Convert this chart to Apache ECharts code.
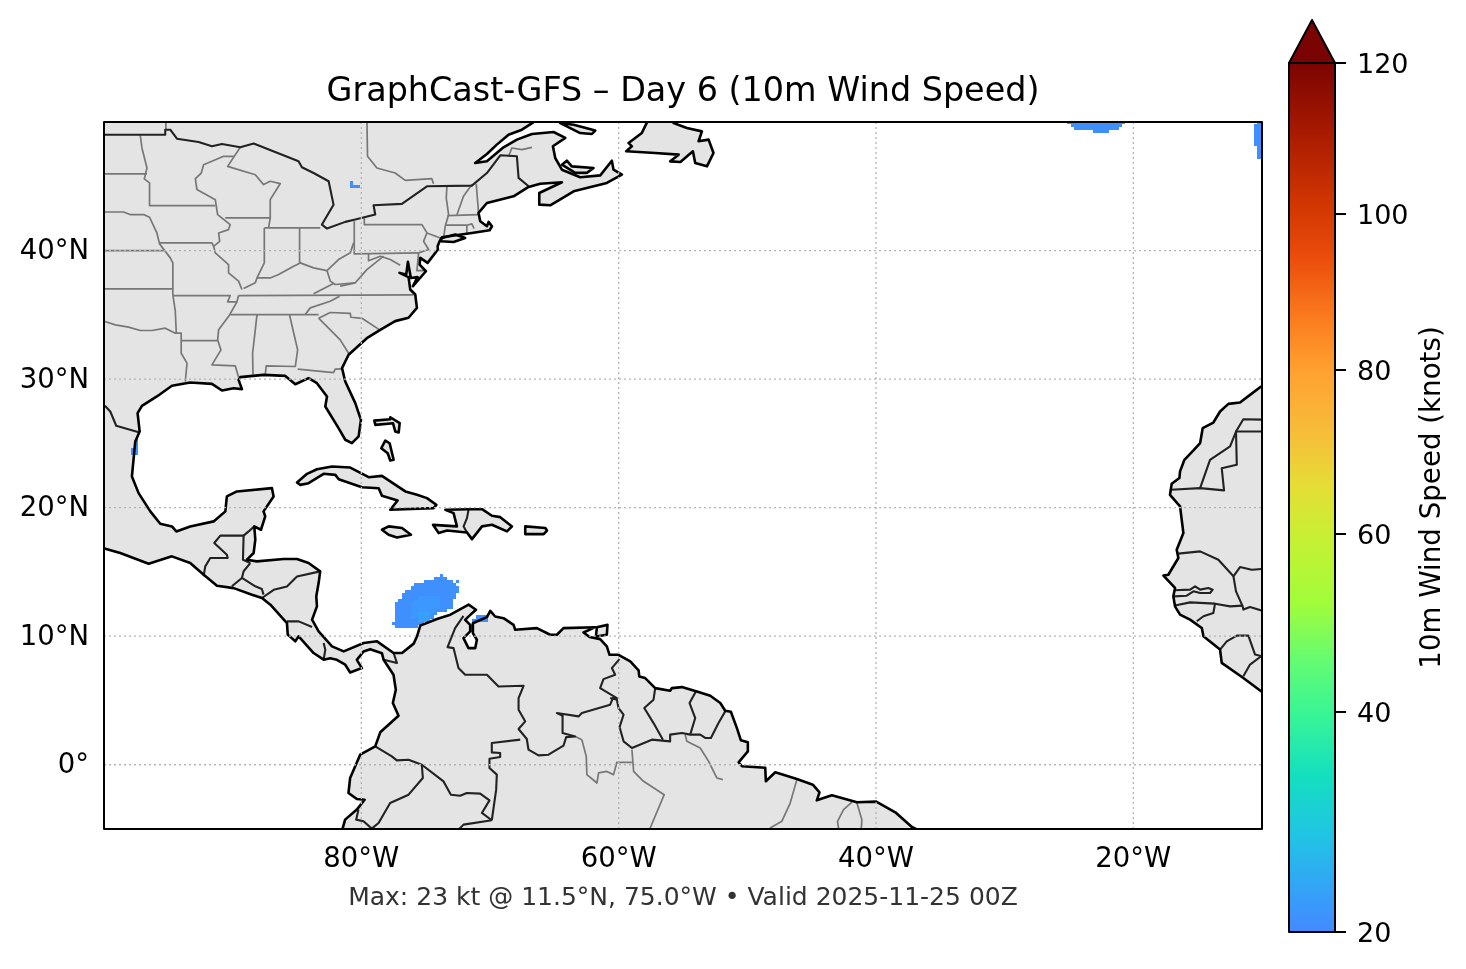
<!DOCTYPE html>
<html>
<head>
<meta charset="utf-8">
<title>GraphCast-GFS Day 6</title>
<script src="https://cdn.jsdelivr.net/npm/echarts@6/dist/echarts.min.js"></script>
<style>
  html, body { margin: 0; padding: 0; background: #fff; }
  #chart { width: 1466px; height: 969px; }
</style>
</head>
<body>
<div id="chart"></div>
<script>
// tick labels
const lonTicks = [-80, -60, -40, -20];
const latTicks = [0, 10, 20, 30, 40];
const cbarKnots = [20, 40, 60, 80, 100, 120];
const cbarPos = [0, 0.2532, 0.458, 0.6467, 0.8262, 1];   // tick spacing on the bar is not linear

// colour bar, position on the bar -> colour
const cbarStops = [
  [0, '#4488ff'], [0.03, '#3a98fb'], [0.108, '#22c2e6'], [0.18, '#14dfc0'],
  [0.253, '#3af595'], [0.31, '#62fb74'], [0.38, '#a2fc3a'], [0.458, '#c9ef33'],
  [0.515, '#e6dc36'], [0.57, '#f6bf3a'], [0.647, '#ffa030'], [0.705, '#fb7c1e'],
  [0.775, '#ea4d0c'], [0.826, '#d63a03'], [0.92, '#a81a01'], [1, '#7a0403']
];
const windColors = { 21: '#3f8ffe', 22: '#3c97fe', 23: '#38a0fc' };

// wind above 20 kt: lat, lon from, lon to, knots (0.25 degree cells)
const windRuns = [
  [14.75, -73.75, -73.75, 21], [14.5, -74.25, -73.5, 21], [14.25, -75, -73, 21], [14.25, -72.5, -72.5, 21],
  [14, -75.75, -72.75, 21], [13.75, -76, -72.5, 21], [13.5, -76.5, -72.5, 21], [13.25, -76.75, -72.75, 21],
  [13, -76.75, -72.75, 21], [12.75, -77, -73, 21], [12.5, -77.25, -73, 21], [12.25, -77.25, -73, 21],
  [12, -77.25, -73.5, 21], [11.75, -77.25, -74.25, 21], [11.5, -77.25, -74.5, 21], [11.25, -77.25, -74.75, 21],
  [11, -77.5, -75.25, 21], [10.75, -77.25, -75.75, 21],
  [13, -75.5, -74, 22], [12.75, -75.75, -74, 22], [12.5, -76, -74, 22], [12.25, -76, -74, 22],
  [12, -76, -74.5, 22], [11.75, -76, -74.5, 22], [11.5, -76, -74.75, 22],
  [11.75, -75.5, -74.75, 23], [11.5, -75.5, -74.75, 23], [11.25, -75.5, -74.75, 23],
  [11.5, -71, -70.25, 21], [11.25, -71.25, -70.25, 21],
  [50, -25, -20.75, 21], [49.75, -24.75, -21, 21], [49.5, -24.5, -21.25, 21], [49.25, -23, -22, 21],
  [50, -10.25, -10, 21], [49.75, -10.5, -10, 21], [49.5, -10.5, -10, 21], [49.25, -10.5, -10, 21],
  [49, -10.5, -10, 21], [48.75, -10.5, -10, 21], [48.5, -10.5, -10, 21], [48.25, -10.5, -10, 21],
  [48, -10.25, -10, 21], [47.75, -10.25, -10, 21], [47.5, -10.25, -10, 21], [47.25, -10.25, -10, 21],
  [45.25, -80.75, -80.75, 21], [45, -80.75, -80.25, 21],
  [25.25, -97.5, -97.5, 21], [25, -97.5, -97.5, 21], [24.75, -97.5, -97.5, 21],
  [24.5, -97.75, -97.5, 21], [24.25, -97.75, -97.5, 21]
];

// land outlines, lon/lat
const americas = [[-101,50.5],[-66.67,50.5],[-66.67,49.95],[-67.52,49.4],[-68.56,49.01],[-69.47,48.24],[-70.24,47.51],[-71.15,46.81],
  [-70.24,46.94],[-68.95,48.03],[-67.91,48.63],[-66.74,49.07],[-65.06,49.22],[-64.15,48.76],[-65.11,48.11],[-64.93,47.2],[-64.41,46.29],
  [-62.99,45.7],[-61.43,45.85],[-60.53,46.99],[-60.4,46.29],[-59.75,45.9],[-60.92,45.26],[-63.5,44.61],[-65.32,43.52],[-66.17,43.57],
  [-66.17,44.48],[-64.41,45.31],[-66.1,45.2],[-67,44.95],[-68.17,44.22],[-70.24,43.7],[-70.89,42.93],[-70.76,42.28],[-70.24,41.89],
  [-70.11,42.23],[-69.85,41.89],[-70.03,41.58],[-71.41,41.37],[-73.74,41.03],[-73.92,40.72],[-74.07,40.33],[-74.05,40.08],[-74.85,39.04],
  [-75.42,39.43],[-75.47,38.91],[-74.98,38.39],[-75.99,37.23],[-75.63,37.93],[-76.15,37.87],[-76.38,39.12],[-76.51,38.13],[-77.03,38.26],
  [-76.33,37.93],[-76.2,36.97],[-75.81,36.58],[-75.68,35.54],[-76.33,34.77],[-77.37,34.51],[-78.53,33.83],[-79.57,33.18],[-80.99,31.89],
  [-81.5,30.85],[-81.25,29.81],[-80.47,28.13],[-80.03,26.83],[-80.21,25.54],[-80.73,25.02],[-81.25,25.28],[-81.77,26.19],[-82.8,27.87],
  [-82.67,28.65],[-83.45,29.68],[-84.1,30.07],[-85.13,29.6],[-85.91,30.25],[-87.6,30.33],[-89.41,30.15],[-89.54,29.94],[-89.28,29.22],
  [-89.93,29.29],[-90.83,29.11],[-91.61,29.63],[-93.3,29.73],[-94.72,29.48],[-95.89,28.65],[-97.05,27.92],[-97.39,27.35],[-97.23,25.93],
  [-97.57,25.15],[-97.83,22.43],[-97.31,21.13],[-96.4,19.71],[-95.63,18.75],[-94.72,18.54],[-94.38,18.15],[-93.3,18.54],[-91.48,18.93],
  [-90.57,19.71],[-90.45,20.87],[-89.67,21.26],[-86.95,21.52],[-86.82,20.87],[-87.6,19.71],[-87.47,19.32],[-87.8,18.28],[-88.32,18.54],
  [-88.24,17.51],[-88.37,16.47],[-88.89,15.95],[-88.12,15.82],[-86.04,16],[-85,16],[-84.1,15.69],[-83.2,15.04],[-83.32,14.13],[-83.5,13.1],
  [-83.45,12.32],[-83.83,11.28],[-83.32,10.38],[-82.28,9.21],[-81.37,8.82],[-79.82,9.47],[-78.78,9.6],[-77.49,8.69],[-76.84,8.69],
  [-75.93,9.42],[-75.67,9.99],[-75.42,10.82],[-74.12,11.33],[-73.08,11.67],[-71.66,12.45],[-71.09,12.06],[-71.66,11.54],[-71.93,11.27],
  [-71.54,10.88],[-71.54,10.37],[-72.06,9.85],[-71.67,9.07],[-71.15,9.07],[-71.02,9.72],[-71.33,10.24],[-71.33,11.01],[-70.24,11.48],
  [-69.98,11.97],[-69.6,11.53],[-68.95,11.4],[-68.17,10.88],[-68.04,10.5],[-66.36,10.63],[-65.32,10.11],[-64.8,10.11],[-64.29,10.63],
  [-61.82,10.7],[-62.73,10.29],[-62.26,9.93],[-61.44,9.77],[-60.92,9.2],[-60.71,8.55],[-60.01,8.55],[-59.1,8.04],[-58.45,7.34],[-58.4,6.87],
  [-57.94,6.74],[-57.16,5.96],[-56,5.76],[-55.86,5.96],[-55.09,6.04],[-53.92,5.7],[-52.88,5.37],[-52.1,4.8],[-51.72,4.2],[-51.28,4.12],
  [-50.81,2.85],[-50.5,1.9],[-49.96,1.74],[-49.96,1.04],[-50.68,0.19],[-50.42,-0.12],[-48.61,-0.23],[-48.56,-1.29],[-47.83,-0.59],
  [-46.15,-1.11],[-44.91,-1.55],[-44.39,-2.15],[-44.6,-2.77],[-43.43,-2.38],[-41.48,-2.92],[-39.98,-2.87],[-38.5,-3.7],[-37.21,-4.84],
  [-36.69,-5.1],[-36,-6],[-82,-6],[-81.44,-4.92],[-81.26,-4.27],[-80.35,-3.49],[-79.75,-2.72],[-80.35,-2.67],[-81,-2.2],[-80.87,-1.03],
  [-80.09,0.78],[-78.92,1.43],[-78.53,2.52],[-77.11,3.81],[-77.55,4.8],[-77.32,5.83],[-77.5,7],[-78.27,8.16],[-78.4,8.68],[-79.31,8.99],
  [-79.83,8.81],[-80.35,8.16],[-79.96,7.52],[-80.87,7.18],[-81.25,7.78],[-81.9,8.16],[-82.42,8.29],[-82.93,8.17],[-83.71,8.69],[-84.87,9.99],
  [-85.13,9.6],[-85.72,10.12],[-85.78,11.02],[-87.07,12.45],[-87.72,12.97],[-88.5,13.23],[-89.92,13.74],[-91.22,13.92],[-92.25,14.78],
  [-93.3,15.69],[-94.72,16.21],[-96.53,15.64],[-98.74,16.47],[-99.9,16.81],[-101,16.9]];
const anticosti = [[-64.54,49.92],[-63.5,49.79],[-61.82,49.33],[-62.08,49.07],[-62.99,49.14],[-64.03,49.66]];
const princeEdward = [[-64.41,46.68],[-64.03,46.99],[-63.64,46.55],[-61.95,46.42],[-62.47,46.04],[-63.38,46.04]];
const longIsland = [[-73.74,40.98],[-72.7,41.24],[-71.93,40.98],[-72.83,40.67],[-73.84,40.72]];
const newfoundland = [[-57.6,50.5],[-57.81,49.95],[-58.2,49.14],[-59.23,48.37],[-58.97,48.11],[-59.41,47.72],[-57.16,47.59],[-55.34,47.46],
  [-55.99,46.94],[-55.2,46.89],[-54.23,47.72],[-54.05,46.81],[-53.14,46.55],[-52.63,47.59],[-53.01,48.63],[-53.79,48.5],[-53.53,49.27],
  [-54.7,49.53],[-55.73,49.92],[-55.9,50.5]];
const grandBahama = [[-78.99,26.77],[-77.75,26.88],[-77.75,27.03],[-77.02,26.57],[-77.1,25.84],[-77.36,25.92],[-77.54,26.57],[-78.91,26.44]];
const andros = [[-78.14,25.22],[-77.8,25.01],[-77.49,23.72],[-77.75,23.67],[-77.95,24.23],[-78.45,24.62]];
const cuba = [[-85,21.96],[-84.22,22.63],[-83.45,22.99],[-82.28,23.2],[-80.86,23.12],[-79.43,22.37],[-78.4,22.47],[-76.58,21.26],[-75.67,21],
  [-74.9,20.74],[-74.17,20.22],[-74.38,19.96],[-77.75,19.83],[-77.18,20.56],[-78.4,20.92],[-78.65,21.51],[-79.95,21.59],[-81.76,22.21],
  [-82.02,22.55],[-82.93,22.63],[-84.1,21.9],[-84.74,21.77]];
const jamaica = [[-78.4,18.28],[-77.88,18.54],[-76.84,18.41],[-76.14,17.89],[-77.23,17.68],[-77.88,17.89]];
const hispaniola = [[-73.47,19.83],[-71.66,19.88],[-70.62,19.88],[-69.85,19.37],[-69.2,19.26],[-68.29,18.54],[-68.68,18.15],[-69.85,18.67],
  [-70.62,18.54],[-71.4,17.55],[-71.79,18.07],[-73.34,18.22],[-73.99,18.02],[-74.43,18.66],[-72.57,18.54],[-72.83,19.57]];
const puertoRico = [[-67.26,18.54],[-65.7,18.41],[-65.57,18.22],[-65.83,17.94],[-67.26,17.94]];
const trinidad = [[-61.69,10.7],[-60.87,10.88],[-60.92,10.11],[-61.77,9.98]];
const africa = [[-9,30],[-10.07,29.42],[-10.93,28.77],[-11.71,28.18],[-12.61,28.07],[-13.26,27.48],[-13.78,26.62],[-14.61,26.18],[-14.81,25.02],
  [-15.33,24.45],[-16.03,23.72],[-16.37,22.82],[-16.42,22.3],[-17.02,21.86],[-17.15,21],[-16.37,20.1],[-16.11,18.02],[-16.63,16.73],
  [-16.5,16.08],[-17.28,14.78],[-17.66,14.71],[-16.76,13.75],[-16.89,13.1],[-16.76,12.32],[-16.37,11.68],[-15.59,11.29],[-14.68,10.64],
  [-14.55,9.99],[-13.26,8.96],[-13.13,7.92],[-11.45,6.75],[-10.07,5.72],[-9,5]];

// country borders
const countryLines = [
  [[-101,49.01],[-95.24,49.01],[-95.24,49.4],[-94.85,49.4],[-94.33,48.7],[-92.65,48.44],[-91.61,48.11],[-90.83,48.29],[-89.41,48.03],[-88.37,48.32],
   [-84.88,46.94],[-84.62,46.48],[-83.71,46.03],[-82.54,45.39],[-82.16,43.57],[-83.06,42.02],[-82.67,41.71],[-81.25,42.23],[-80.47,42.41],
   [-78.92,42.8],[-79.05,43.52],[-76.85,43.63],[-74.9,45],[-71.41,45.05],[-70.24,46.03],[-69.2,47.41],[-67.91,47.33],[-67.78,45.65],[-67,45]],
  [[-99.93,27.92],[-99.51,27.48],[-99.05,26.37],[-97.23,25.85]],
  [[-92.26,14.66],[-92.13,15.43],[-91.74,16.08],[-90.39,16.08],[-90.45,16.34],[-91.43,17.25],[-90.96,17.82],[-89.15,17.82],[-89.2,15.95],[-88.63,15.69]],
  [[-89.15,17.82],[-88.76,18.15],[-88.32,18.54]],
  [[-88.63,15.69],[-89.15,15.05],[-89.28,14.53],[-90.06,13.88]],
  [[-89.28,14.53],[-88.24,13.88],[-87.73,13.67],[-87.6,13.23]],
  [[-87.72,12.97],[-86.81,13.61],[-85.78,13.87],[-85,14.65],[-83.2,15.04]],
  [[-85.78,11.15],[-84.87,11.15],[-83.83,10.71]],
  [[-82.93,9.47],[-82.8,8.95],[-82.93,8.17]],
  [[-78.26,8.17],[-77.23,7.91],[-77.49,8.69]],
  [[-71.66,19.88],[-71.79,19.18],[-72.05,18.54],[-71.79,18.07]],
  [[-72.06,11.58],[-72.71,10.62],[-73.3,9.15],[-72.83,9.07],[-72.45,7.52],[-71.93,7],[-70.24,7],[-69.34,6.09],[-67.39,6.14],[-67.78,5.18],
   [-67.78,4.28],[-67.26,3.37],[-67.78,2.78],[-67.14,2],[-67.01,1.17],[-66.23,0.73],[-65.45,0.78],[-64.29,1.48],[-64.08,2.15],[-63.38,2.2],
   [-64.36,2.46],[-64.36,3.81],[-64.8,4.02],[-63.12,3.76],[-62.86,4.02],[-60.66,4.67],[-60.45,5.18],[-60.14,5.18],[-61.44,5.96],[-61.18,6.66],
   [-60.27,7],[-60.53,7.52],[-59.94,8.21]],
  [[-67.65,1.95],[-69.86,1.69],[-69.86,0.96],[-69.21,0.91],[-69.21,0.6],[-70.04,0.47],[-70.04,-0.26],[-69.47,-0.77],[-69.52,-1.94],[-69.86,-4.32]],
  [[-78.92,1.43],[-77.63,0.65],[-77.24,0.34],[-76.33,0.39],[-75.3,0],[-73.61,-1.3],[-73.04,-2.33],[-72.32,-2.41],[-71.8,-2.2],[-70.76,-2.25],
   [-70.04,-2.77],[-70.63,-3.75],[-69.86,-4.32]],
  [[-75.3,0],[-75.22,-1.03],[-76.33,-2.33],[-77.76,-2.98],[-78.66,-4.53],[-79.19,-4.97],[-79.83,-4.4],[-80.4,-4.27],[-80.22,-3.49]],
  [[-69.86,-4.32],[-72.06,-4.66],[-72.45,-5.05]],
  [[-60.66,5.19],[-60.14,5.06],[-60.01,4.41],[-59.62,3.89],[-59.93,2.93],[-59.62,1.82],[-58.97,1.3],[-57.42,1.95],[-56,1.82],[-56,2.34],
   [-55.09,2.47],[-54.44,2.34],[-53.66,2.34],[-53.27,2.08],[-52.83,2.08],[-52.24,3.24],[-51.72,4.15]],
  [[-57.16,5.96],[-57.29,5.06],[-58.01,4.41],[-57.29,3.24],[-56.56,1.95]],
  [[-54,5.7],[-54.49,4.8],[-54.05,3.63],[-54.44,2.34]],
  [[-17.09,21.39],[-14.81,21.52],[-12.95,21.34],[-13.13,23.07],[-11.96,23.33],[-12.02,25.92],[-9,25.92]],
  [[-14.81,21.52],[-14.04,23.72],[-12.48,24.76],[-12.02,25.92],[-11.45,26.88],[-9,26.83]],
  [[-16.5,16.42],[-14.81,16.6],[-13.39,15.95],[-12.22,14.66],[-11.71,15.38],[-10.8,15.17],[-9,15.3]],
  [[-12.22,14.66],[-12.02,13.49],[-11.5,12.32],[-11.45,12.07],[-10.93,12.27],[-9,11.7]],
  [[-16.83,13.57],[-15.59,13.62],[-15.2,13.88],[-14.81,13.62],[-14.17,13.75],[-13.83,13.62],[-14.04,13.36],[-14.81,13.36],[-15.33,13.49],[-15.85,13.15],[-16.83,13.1]],
  [[-16.76,12.38],[-15.59,12.63],[-13.65,12.53],[-12.48,12.32],[-11.5,12.38]],
  [[-13.65,12.53],[-13.78,11.8],[-14.55,11.55],[-15.07,11.16]],
  [[-13.26,8.96],[-12.74,9.6],[-11.96,10.04],[-11.06,10.04],[-10.54,8.57],[-9,8.2]],
  [[-11.45,6.88],[-10.93,7.79],[-10.07,8.44]]
];

// US state lines and other first level borders
const stateLines = [
  [[-101,45.96],[-96.66,45.96]],
  [[-97.18,48.96],[-97.05,47.98],[-96.66,46.42],[-96.87,45.57],[-96.46,45.26],[-96.46,43.44]],
  [[-101,43],[-98.48,43],[-97.97,42.8],[-96.92,42.8],[-96.46,42.59],[-95.89,41.37],[-95.68,40.52],[-94.85,39.43],[-94.65,39.04],[-94.65,36.58],[-94.46,35.28],[-94.38,33.57]],
  [[-96.46,43.5],[-91.35,43.5]],
  [[-95.68,40.6],[-91.61,40.6],[-91.48,40.33]],
  [[-89.93,47.33],[-90.7,47.33],[-92.26,46.68],[-92.44,46.03],[-92.9,45.59],[-92.78,44.74],[-91.35,43.96],[-91.17,42.8],[-90.19,42.02],[-90.32,41.63],
   [-91.09,41.37],[-91.01,40.72],[-91.48,40.33],[-91.35,39.82],[-90.32,38.91],[-90.32,38.26],[-89.54,37.62],[-89.28,36.97]],
  [[-89.41,48.03],[-90.39,46.55],[-88.24,45.9],[-87.6,45.13],[-87.08,45.39],[-86.3,45.21],[-87.08,43.96],[-87.08,42.54],[-87.21,41.76]],
  [[-90.58,42.54],[-87.08,42.54]],
  [[-87.54,41.76],[-83.19,41.76]],
  [[-87.54,41.76],[-87.54,39.04],[-88.11,37.87]],
  [[-89.15,37.05],[-88.24,37.49],[-88.11,37.87],[-87.08,37.87],[-86.43,38.13],[-85.26,38.78],[-84.75,39.04],[-83.71,38.65],[-82.67,38.44],[-81.77,39.3],[-80.86,39.82],[-80.6,40.6]],
  [[-84.8,41.76],[-84.8,39.04]],
  [[-82.67,38.44],[-82.41,37.62],[-82.03,37.36],[-80.47,37.49],[-79.57,38.52],[-78.27,39.56]],
  [[-81.64,37.23],[-80.47,37.49]],
  [[-80.55,42.28],[-80.55,39.74],[-75.55,39.82]],
  [[-79.77,42.54],[-79.77,42.02],[-75.29,42.02],[-74.9,41.37],[-73.87,40.98]],
  [[-79.44,39.74],[-79.44,39.2],[-78.53,39.56],[-77.75,39.3],[-76.98,38.86]],
  [[-74.9,41.37],[-75.16,40.72],[-74.77,40.08],[-75.55,39.82]],
  [[-75.55,39.82],[-75.68,38.44],[-75.03,38.44]],
  [[-73.35,45],[-73.4,44.09],[-73.22,42.79],[-73.48,41.89],[-73.6,41.03]],
  [[-71.41,45.13],[-72.06,44.22],[-72.57,42.79]],
  [[-73.3,42.72],[-70.89,42.79]],
  [[-73.48,41.97],[-71.8,41.97],[-71.41,42.07],[-71.23,41.71]],
  [[-71.8,41.97],[-71.8,41.37]],
  [[-71.07,45.2],[-70.89,42.93]],
  [[-79.57,50.5],[-79.52,47.33],[-78.79,46.42],[-77.37,46.03],[-76.59,45.46],[-74.52,45.59],[-74.39,45.2]],
  [[-66.74,48.03],[-67.52,47.85],[-68.3,47.98],[-68.56,47.33]],
  [[-95.19,50.5],[-95.19,49.4]],
  [[-89.54,36.5],[-75.94,36.55]],
  [[-83.71,36.63],[-82.16,37.43]],
  [[-81.69,36.45],[-82.42,36.06],[-83.97,35.54],[-84.36,35.02]],
  [[-90.19,35.02],[-83.32,35.02]],
  [[-94.59,36.5],[-90.19,36.5],[-90.39,36.01],[-89.67,36.01],[-89.54,36.5]],
  [[-89.67,36.01],[-90.24,34.99],[-91.09,33.83],[-91.17,33.05],[-90.91,32.27],[-91.61,31.11],[-89.8,31.03],[-89.54,30.15]],
  [[-94,33],[-91.17,33]],
  [[-101,34.5],[-99.93,34.48],[-99.12,34.22],[-98.09,34.04],[-97.18,33.78],[-96.27,33.78],[-95.24,33.96],[-94.46,33.57],[-94,33.57],[-94,32.01],[-93.55,31.24],[-93.68,29.81]],
  [[-101,40],[-95.37,40]],
  [[-101,37.02],[-94.65,37.02]],
  [[-88.11,34.99],[-88.45,32.01],[-88.42,30.33]],
  [[-85.58,34.99],[-84.95,32.27],[-85.13,30.98],[-87.39,31.03],[-87.47,30.33]],
  [[-84.95,30.77],[-82.16,30.51],[-82.03,30.77],[-81.5,30.8]],
  [[-83.32,34.74],[-81.64,33.05],[-80.99,32.01]],
  [[-83.32,34.74],[-82.42,35.18],[-80.86,35.12],[-80.81,34.81],[-79.95,34.73],[-78.58,33.83]],
  [[-62.86,1.95],[-62.52,0.65],[-62.47,-0.77],[-61.69,-1.42],[-61.56,-0.64],[-60.92,-0.52],[-60.4,-0.77],[-60.14,0.19],[-58.97,0.19]],
  [[-63.38,2.2],[-62.86,1.95]],
  [[-58.97,1.17],[-58.84,-0.51],[-58.07,-1.29],[-56.46,-2.33],[-57.55,-4.92],[-57.8,-5.5]],
  [[-54.83,2.34],[-54.7,1.82],[-53.66,1.3],[-53.01,0.26],[-52.37,-1.03],[-51.9,-1.16]],
  [[-46.15,-1.16],[-46.67,-2.98],[-47.32,-4.4],[-48.22,-4.92],[-48.6,-5.5]],
  [[-41.87,-2.9],[-42.52,-3.49],[-42.99,-4.4],[-42.83,-5.5]],
  [[-41.48,-2.97],[-41.1,-4.27],[-41.17,-5.5]]
];

const landShapes = [americas, anticosti, princeEdward, longIsland, newfoundland, grandBahama, andros, cuba, jamaica,
  hispaniola, puertoRico, trinidad, africa];
const lonLines = lonTicks.map(v => [[v, -5], [v, 50]]);
const latLines = latTicks.map(v => [[-100, v], [-10, v]]);
const frameBox = [[-100, -5], [-10, -5], [-10, 50], [-100, 50]];
const cbarBox = [[0, 0], [1, 0], [1, 1], [0, 1]];
const cbarArrow = [[0, 1], [0.5, 1.0495], [1, 1]];
const cbarTicks = cbarPos.map(v => [[1, v], [1.24, v]]);

// one custom series that strokes / fills a list of lon-lat paths
function pathSeries(paths, closed, style, z, clip, axisIndex) {
  return {
    type: 'custom',
    xAxisIndex: axisIndex || 0,
    yAxisIndex: axisIndex || 0,
    coordinateSystem: 'cartesian2d',
    clip: clip,
    silent: true,
    z: z,
    data: paths.map((p, i) => [p[0][0], p[0][1], i]),
    renderItem: function (params, api) {
      let pts = paths[api.value(2)].map(p => api.coord(p));
      return {
        type: closed ? 'polygon' : 'polyline',
        shape: { points: pts },
        style: Object.assign({ lineJoin: 'round' }, style, closed ? {} : { fill: null })
      };
    }
  };
}

let myChart = echarts.init(document.getElementById('chart'));
let option = {
  animation: false,
  backgroundColor: '#fff',
  textStyle: { fontFamily: 'DejaVu Sans' },
  title: [
    { text: 'GraphCast-GFS – Day 6 (10m Wind Speed)', left: 678, top: 71, textAlign: 'center',
      textStyle: { fontFamily: 'DejaVu Sans', fontWeight: 'normal', fontSize: 33.4, color: '#000' } },
    { text: 'Max: 23 kt @ 11.5°N, 75.0°W • Valid 2025-11-25 00Z', left: 678, top: 881, textAlign: 'center',
      textStyle: { fontFamily: 'DejaVu Sans', fontWeight: 'normal', fontSize: 25, color: '#333' } }
  ],
  grid: [
    { left: 104, top: 122, width: 1158, height: 707 },
    { left: 1289, top: 63, width: 46, height: 869 }
  ],
  xAxis: [
    { type: 'value', gridIndex: 0, min: -100, max: -10,
      splitLine: { show: false }, axisLine: { show: false }, axisTick: { show: false },
      axisLabel: { customValues: lonTicks, margin: 17, fontSize: 27.5, color: '#000', fontFamily: 'DejaVu Sans',
        formatter: v => Math.abs(v) + '°W' } },
    { type: 'value', gridIndex: 1, min: 0, max: 1, show: false }
  ],
  yAxis: [
    { type: 'value', gridIndex: 0, min: -5, max: 50,
      splitLine: { show: false }, axisLine: { show: false }, axisTick: { show: false },
      axisLabel: { customValues: latTicks, margin: 15, fontSize: 27.5, color: '#000', fontFamily: 'DejaVu Sans',
        verticalAlign: 'top', lineHeight: 3,
        formatter: v => v === 0 ? '0°' : v + '°N' } },
    { type: 'value', gridIndex: 1, min: 0, max: 1, position: 'right',
      splitLine: { show: false },
      axisLine: { show: false },
      axisTick: { show: false },
      axisLabel: { customValues: cbarPos, margin: 22, fontSize: 27, color: '#000', fontFamily: 'DejaVu Sans',
        verticalAlign: 'top', lineHeight: 6,
        formatter: v => String(cbarKnots[cbarPos.indexOf(v)]) },
      name: '10m Wind Speed (knots)', nameLocation: 'middle', nameRotate: 90, nameGap: 84,
      nameTextStyle: { fontSize: 27.7, color: '#000', fontFamily: 'DejaVu Sans' } }
  ],
  series: [
    pathSeries(landShapes, true, { fill: '#e4e4e4', stroke: null }, 1, true),
    {
      type: 'custom',
      coordinateSystem: 'cartesian2d',
      clip: true,
      silent: true,
      z: 2,
      data: windRuns.map(r => [r[1], r[0], r[2], r[3]]),
      renderItem: function (params, api) {
        let a = api.coord([api.value(0) - 0.125, api.value(1) + 0.125]);
        let b = api.coord([api.value(2) + 0.125, api.value(1) - 0.125]);
        // snap to whole pixels so neighbouring rows leave no seams
        let top = Math.round(a[1]), bottom = Math.round(b[1]);
        return {
          type: 'rect',
          shape: { x: Math.round(a[0]), y: top, width: Math.round(b[0]) - Math.round(a[0]), height: bottom - top },
          style: { fill: windColors[api.value(3)] }
        };
      }
    },
    pathSeries(stateLines, false, { stroke: '#777', lineWidth: 1.7 }, 3, true),
    pathSeries(countryLines, false, { stroke: '#222', lineWidth: 2.1 }, 4, true),
    pathSeries(landShapes, true, { fill: null, stroke: '#000', lineWidth: 2.6 }, 5, true),
    pathSeries(lonLines.concat(latLines), false, { stroke: '#b4b4b4', lineWidth: 1.3, lineDash: [2, 3] }, 6, true),
    pathSeries([frameBox], true, { fill: null, stroke: '#000', lineWidth: 2 }, 7, false),
    pathSeries([cbarBox], true, {
      fill: new echarts.graphic.LinearGradient(0, 1, 0, 0, cbarStops.map(s => ({ offset: s[0], color: s[1] }))),
      stroke: '#000', lineWidth: 2 }, 2, false, 1),
    pathSeries([cbarArrow], true, { fill: '#7a0403', stroke: '#000', lineWidth: 2 }, 2, false, 1),
    pathSeries(cbarTicks, false, { stroke: '#000', lineWidth: 2 }, 2, false, 1)
  ]
};
myChart.setOption(option);
</script>
</body>
</html>
